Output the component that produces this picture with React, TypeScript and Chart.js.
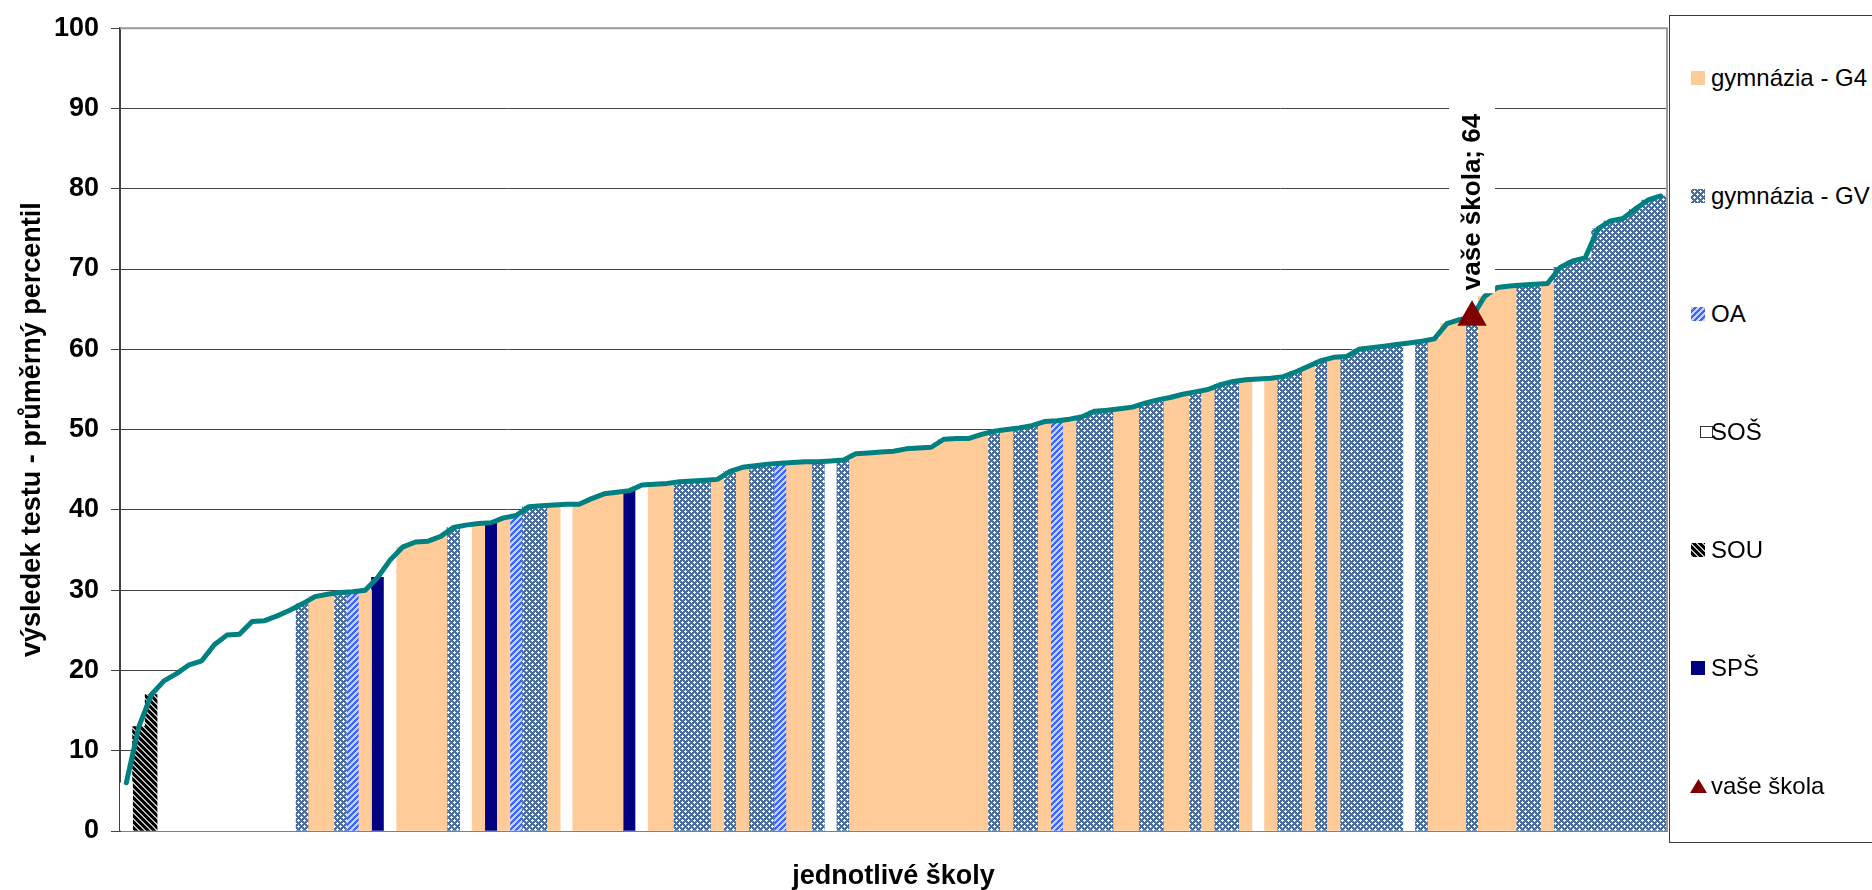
import React, { useEffect, useRef } from 'react';
import { Chart, registerables } from 'chart.js';

Chart.register(...registerables);

const FONT = '"Liberation Sans", Arial, Helvetica, sans-serif';

const xAxisTitle = 'jednotlivé školy';
const yAxisTitle = 'výsledek testu - průměrný percentil';
const yMin = 0;
const yMax = 100;
const yStep = 10;

const typeKeys = ['G4', 'GV', 'OA', 'SOŠ', 'SOU', 'SPŠ'];
const typeLabels = ['gymnázia - G4', 'gymnázia - GV', 'OA', 'SOŠ', 'SOU', 'SPŠ'];
const ownSchoolLabel = 'vaše škola';
const ownSchoolIndex = 107;
const ownSchoolValue = 64;

// average percentile of each school (sorted ascending)
const percentile = [
  6.0, 13.0, 17.0, 18.7, 19.6, 20.7, 21.2, 23.2, 24.4, 24.5,
  26.1, 26.2, 26.8, 27.5, 28.3, 29.2, 29.5, 29.7, 29.8, 30.0,
  31.6, 33.8, 35.4, 36.0, 36.1, 36.7, 37.8, 38.1, 38.3, 38.4,
  39.0, 39.3, 40.4, 40.5, 40.6, 40.7, 40.7, 41.4, 42.0, 42.2,
  42.4, 43.1, 43.2, 43.3, 43.5, 43.6, 43.7, 43.8, 44.8, 45.3,
  45.5, 45.7, 45.8, 45.9, 46.0, 46.0, 46.1, 46.2, 47.0, 47.1,
  47.2, 47.3, 47.6, 47.7, 47.8, 48.8, 48.9, 48.9, 49.4, 49.8,
  50.0, 50.2, 50.5, 51.0, 51.1, 51.3, 51.6, 52.3, 52.4, 52.6,
  52.8, 53.3, 53.7, 54.0, 54.4, 54.7, 55.0, 55.6, 56.0, 56.2,
  56.3, 56.4, 56.6, 57.2, 57.9, 58.6, 59.0, 59.1, 60.0, 60.2,
  60.4, 60.6, 60.8, 61.0, 61.3, 63.2, 63.7, 64.0, 66.6, 67.7,
  67.9, 68.0, 68.1, 68.2, 70.2, 71.0, 71.4, 75.0, 76.0, 76.3,
  77.5, 78.6, 79.1,
];

// school type of each school
const schoolType = [
  'SOŠ', 'SOU', 'SOU', 'SOŠ', 'SOŠ', 'SOŠ', 'SOŠ', 'SOŠ', 'SOŠ', 'SOŠ',
  'SOŠ', 'SOŠ', 'SOŠ', 'SOŠ', 'GV', 'G4', 'G4', 'GV', 'OA', 'G4',
  'SPŠ', 'SOŠ', 'G4', 'G4', 'G4', 'G4', 'GV', 'SOŠ', 'G4', 'SPŠ',
  'G4', 'OA', 'GV', 'GV', 'G4', 'SOŠ', 'G4', 'G4', 'G4', 'G4',
  'SPŠ', 'SOŠ', 'G4', 'G4', 'GV', 'GV', 'GV', 'G4', 'GV', 'G4',
  'GV', 'GV', 'OA', 'G4', 'G4', 'GV', 'SOŠ', 'GV', 'G4', 'G4',
  'G4', 'G4', 'G4', 'G4', 'G4', 'G4', 'G4', 'G4', 'G4', 'GV',
  'G4', 'GV', 'GV', 'G4', 'OA', 'G4', 'GV', 'GV', 'GV', 'G4',
  'G4', 'GV', 'GV', 'G4', 'G4', 'GV', 'G4', 'GV', 'GV', 'G4',
  'SOŠ', 'G4', 'GV', 'GV', 'G4', 'GV', 'G4', 'GV', 'GV', 'GV',
  'GV', 'GV', 'SOŠ', 'GV', 'G4', 'G4', 'G4', 'GV', 'G4', 'G4',
  'G4', 'GV', 'GV', 'G4', 'GV', 'GV', 'GV', 'GV', 'GV', 'GV',
  'GV', 'GV', 'GV',
];

const schoolLabels = percentile.map((_, i) => `${i + 1}`);

function makeFill(ctx: CanvasRenderingContext2D, key: string): string | CanvasPattern {
  if (key === 'G4') return '#ffcc99';
  if (key === 'SPŠ') return '#000080';
  if (key === 'SOŠ') return '#ffffff';
  const tile = document.createElement('canvas');
  tile.width = 6;
  tile.height = 6;
  const t = tile.getContext('2d') as CanvasRenderingContext2D;
  const whites = ['1,0', '0,1', '1,1', '2,1', '1,2', '4,3', '3,4', '4,4', '5,4', '4,5'];
  for (let y = 0; y < 6; y++) {
    for (let x = 0; x < 6; x++) {
      let c = '#fff';
      if (key === 'GV') c = whites.includes(`${x},${y}`) ? '#ffffff' : '#4a6ea0';
      else if (key === 'OA') c = (x + y) % 6 < 3 ? '#3c64ff' : '#c6d2ff';
      else if (key === 'SOU') c = (x - y + 6) % 6 < 4 ? '#000000' : '#bdbdbd';
      t.fillStyle = c;
      t.fillRect(x, y, 1, 1);
    }
  }
  return ctx.createPattern(tile, 'repeat') as CanvasPattern;
}

const framePlugin = {
  id: 'frameAndLabel',
  afterDatasetsDraw(chart: any) {
    const { ctx, chartArea: a } = chart;
    ctx.save();
    ctx.strokeStyle = '#9a9a9a';
    ctx.lineWidth = 2;
    ctx.beginPath();
    ctx.moveTo(a.left, a.top);
    ctx.lineTo(a.right, a.top);
    ctx.lineTo(a.right, a.bottom);
    ctx.stroke();

    const meta = chart.getDatasetMeta(0);
    const pt = meta.data[ownSchoolIndex];
    if (pt) {
      const x = pt.x;
      const y = pt.y;
      const text = `${ownSchoolLabel}; ${ownSchoolValue}`;
      ctx.font = `bold 26px ${FONT}`;
      const w = ctx.measureText(text).width;
      const startY = y - 17 - 10;
      ctx.fillStyle = '#ffffff';
      ctx.fillRect(x - 23, startY - w - 8, 46, w + 11);
      ctx.translate(x, startY);
      ctx.rotate(-Math.PI / 2);
      ctx.fillStyle = '#000000';
      ctx.textAlign = 'left';
      ctx.textBaseline = 'middle';
      ctx.fillText(text, 0, 1);
    }
    ctx.restore();
  },
};

function LegendSwatch({ kind }: { kind: string }) {
  const ref = useRef<HTMLCanvasElement | null>(null);
  useEffect(() => {
    const c = ref.current;
    if (!c) return;
    const ctx = c.getContext('2d') as CanvasRenderingContext2D;
    ctx.clearRect(0, 0, 18, 18);
    if (kind === 'marker') {
      ctx.fillStyle = '#800000';
      ctx.beginPath();
      ctx.moveTo(8.5, 2);
      ctx.lineTo(17, 16);
      ctx.lineTo(0, 16);
      ctx.closePath();
      ctx.fill();
    } else if (kind === 'SOŠ') {
      ctx.fillStyle = '#ffffff';
      ctx.fillRect(0.5, 3.5, 12, 11);
      ctx.strokeStyle = '#333';
      ctx.lineWidth = 1;
      ctx.strokeRect(0.5, 3.5, 12, 11);
    } else {
      ctx.fillStyle = makeFill(ctx, kind);
      ctx.fillRect(1, 2, 14, 14);
    }
  }, [kind]);
  return (
    <canvas
      ref={ref}
      width={18}
      height={18}
      style={{ position: 'absolute', left: kind === 'SOŠ' ? 30 : 20, top: -9 }}
    />
  );
}

function Legend() {
  const items = [
    ...typeKeys.map((k, i) => ({ kind: k, label: typeLabels[i] })),
    { kind: 'marker', label: ownSchoolLabel },
  ];
  return (
    <div
      style={{
        position: 'absolute',
        left: 1669,
        top: 15,
        width: 240,
        height: 828,
        border: '1px solid #3a3a3a',
        boxSizing: 'border-box',
        background: '#fff',
      }}
    >
      {items.map((it, i) => (
        <div key={it.label} style={{ position: 'absolute', left: 0, top: 62 + i * 118, height: 0 }}>
          <LegendSwatch kind={it.kind} />
          <span
            style={{
              position: 'absolute',
              left: 41,
              top: -14,
              fontFamily: FONT,
              fontSize: 24,
              lineHeight: '28px',
              whiteSpace: 'nowrap',
              color: '#000',
            }}
          >
            {it.label}
          </span>
        </div>
      ))}
    </div>
  );
}

export default function App() {
  const canvasRef = useRef<HTMLCanvasElement | null>(null);

  useEffect(() => {
    const canvas = canvasRef.current;
    if (!canvas) return;
    const ctx = canvas.getContext('2d') as CanvasRenderingContext2D;
    Chart.defaults.font.family = FONT;

    const barSets = typeKeys.map((key, k) => ({
      type: 'bar' as const,
      label: typeLabels[k],
      data: percentile.map((v, i) => (schoolType[i] === key ? v : null)),
      backgroundColor: makeFill(ctx, key),
      borderWidth: 0,
      grouped: false,
      barPercentage: 1,
      categoryPercentage: 1,
      order: 3,
    }));

    const chart = new Chart(ctx, {
      type: 'bar',
      data: {
        labels: schoolLabels,
        datasets: [
          {
            type: 'line',
            label: ownSchoolLabel,
            data: percentile.map((_, i) => (i === ownSchoolIndex ? ownSchoolValue : null)),
            showLine: false,
            pointStyle: 'triangle',
            pointRadius: 17,
            pointBackgroundColor: '#800000',
            pointBorderWidth: 0,
            borderColor: '#800000',
            order: 0,
          } as any,
          {
            type: 'line',
            label: 'percentil',
            data: percentile,
            borderColor: '#008080',
            borderWidth: 5,
            pointRadius: 0,
            tension: 0,
            borderJoinStyle: 'round',
            borderCapStyle: 'round',
            fill: false,
            order: 1,
          } as any,
          ...(barSets as any[]),
        ],
      },
      options: {
        responsive: true,
        maintainAspectRatio: false,
        animation: false,
        events: [],
        layout: { padding: { top: 24, right: 205, bottom: 0, left: 0 } },
        plugins: {
          legend: { display: false },
          tooltip: { enabled: false },
        },
        scales: {
          x: {
            type: 'category',
            offset: true,
            grid: { display: false },
            border: { display: true, color: '#808080', width: 1 },
            ticks: { display: false },
            title: {
              display: true,
              text: xAxisTitle,
              color: '#000',
              font: { family: FONT, size: 27, weight: 'bold', lineHeight: 1 },
              padding: 0,
            },
            afterFit: (s: any) => {
              s.height = 59;
            },
          },
          y: {
            min: yMin,
            max: yMax,
            ticks: {
              stepSize: yStep,
              padding: 12,
              color: '#000',
              font: { family: FONT, size: 27, weight: 'bold' },
            },
            grid: { color: '#444444', lineWidth: 1, tickLength: 9, drawTicks: true },
            border: { display: true, color: '#404040', width: 2 },
            title: {
              display: true,
              text: yAxisTitle,
              color: '#000',
              font: { family: FONT, size: 27, weight: 'bold', lineHeight: 1.2 },
              padding: { top: 16, bottom: 0 },
            },
            afterFit: (s: any) => {
              s.width = 120;
            },
          },
        },
      } as any,
      plugins: [framePlugin],
    });

    return () => {
      chart.destroy();
    };
  }, []);

  return (
    <div
      style={{
        position: 'fixed',
        left: 0,
        top: 0,
        width: 1872,
        height: 890,
        overflow: 'hidden',
        background: '#fff',
      }}
    >
      <div style={{ position: 'absolute', left: 0, top: 0, width: 1872, height: 890 }}>
        <canvas ref={canvasRef} />
      </div>
      <Legend />
    </div>
  );
}
